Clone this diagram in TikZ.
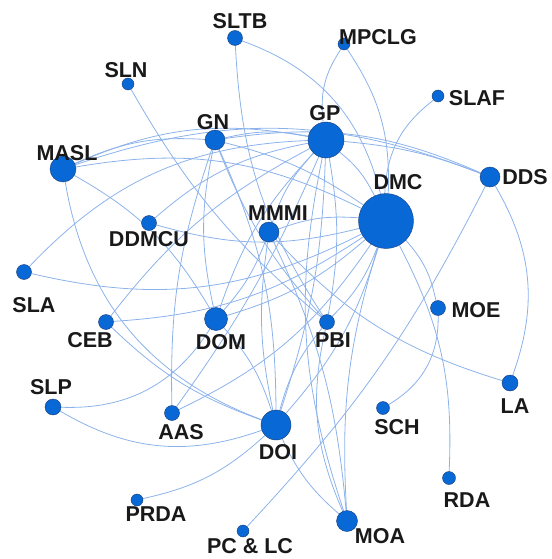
\documentclass[tikz,border=0pt]{standalone}
\usepackage{fontspec}
\setmainfont{Liberation Sans}
\definecolor{nodeblue}{RGB}{8,104,214}
\definecolor{nodeedge}{RGB}{25,60,120}
\definecolor{edgeblue}{RGB}{140,178,235}
\pgfdeclarelayer{bg}
\pgfsetlayers{bg,main}
\begin{document}
\begin{tikzpicture}[x=1pt,y=-1pt,
  v/.style={circle,fill=nodeblue,draw=nodeedge,line width=0.4pt,inner sep=0pt,minimum size=#1},
  lab/.style={font=\fontsize{21.5}{22}\selectfont\bfseries,text=black!90,inner sep=0pt},
  e/.style={draw=edgeblue,line width=0.8pt}]
\useasboundingbox (0,0) rectangle (551,559);
% vertices
\node[v=15] (SLTB) at (235,38) {};
\node[v=12] (MPCLG) at (344,44) {};
\node[v=12] (SLN) at (128,84) {};
\node[v=12] (SLAF) at (438,96) {};
\node[v=36] (GP) at (326,140) {};
\node[v=20] (GN) at (215,140) {};
\node[v=26] (MASL) at (63,169) {};
\node[v=20] (DDS) at (490,177) {};
\node[v=55] (DMC) at (386,221) {};
\node[v=15] (DDMCU) at (149,223) {};
\node[v=20] (MMMI) at (269,232) {};
\node[v=15] (SLA) at (24,272) {};
\node[v=15] (MOE) at (438,308) {};
\node[v=15] (CEB) at (106,322) {};
\node[v=23] (DOM) at (216,319) {};
\node[v=15] (PBI) at (327,322) {};
\node[v=16] (LA) at (510,383) {};
\node[v=16] (SLP) at (53,407) {};
\node[v=15] (AAS) at (172,413) {};
\node[v=13] (SCH) at (383,408) {};
\node[v=30] (DOI) at (276,425) {};
\node[v=13] (RDA) at (449,478) {};
\node[v=12] (PRDA) at (137,500) {};
\node[v=12] (PCLC) at (243,531) {};
\node[v=21] (MOA) at (347,521) {};
% labels
\node[lab] (lSLTB) at (240,21) {SLTB};
\node[lab] (lMPCLG) at (378,37) {MPCLG};
\node[lab] (lSLN) at (126,70) {SLN};
\node[lab] (lSLAF) at (477,98) {SLAF};
\node[lab] (lGP) at (325,113) {GP};
\node[lab] (lGN) at (213,122) {GN};
\node[lab] (lMASL) at (67,153) {MASL};
\node[lab] (lDDS) at (525,177) {DDS};
\node[lab] (lDMC) at (398,182) {DMC};
\node[lab] (lDDMCU) at (149,239) {DDMCU};
\node[lab] (lMMMI) at (278,213) {MMMI};
\node[lab] (lSLA) at (34,305) {SLA};
\node[lab] (lMOE) at (476,310) {MOE};
\node[lab] (lCEB) at (90,340) {CEB};
\node[lab] (lDOM) at (221,342) {DOM};
\node[lab] (lPBI) at (333,340) {PBI};
\node[lab] (lLA) at (515,406) {LA};
\node[lab] (lSLP) at (51,387) {SLP};
\node[lab] (lAAS) at (181,432) {AAS};
\node[lab] (lSCH) at (397,427) {SCH};
\node[lab] (lDOI) at (278,452) {DOI};
\node[lab] (lRDA) at (467,500) {RDA};
\node[lab] (lPRDA) at (156,514) {PRDA};
\node[lab] (lPCLC) at (250,546) {PC \& LC};
\node[lab] (lMOA) at (380,536) {MOA};
% edges
\begin{pgfonlayer}{bg}
\draw[e] (MASL) to[bend left=14] (GN);
\draw[e] (MASL) to[bend left=17] (GP);
\draw[e] (MASL) to[bend left=18] (DMC);
\draw[e] (MASL) to[bend left=20] (DDS);
\draw[e] (GN) to[bend left=12] (GP);
\draw[e] (GN) to[bend left=16] (DDS);
\draw[e] (GP) to[bend left=8] (DDS);
\draw[e] (SLTB) to[bend left=28] (DMC);
\draw[e] (SLTB) to[bend right=15] (PBI);
\draw[e] (MPCLG) to[bend right=20] (GP);
\draw[e] (MPCLG) to[bend left=18] (DMC);
\draw[e] (SLAF) to[bend right=25] (DMC);
\draw[e] (SLN) to[bend right=10] (PBI);
\draw[e] (MASL) to[bend right=30] (DOI);
\draw[e] (MASL) to[bend left=15] (DOM);
\draw[e] (SLA) to[bend left=22] (GP);
\draw[e] (SLA) to[bend right=20] (DMC);
\draw[e] (CEB) to[bend right=15] (DMC);
\draw[e] (CEB) to[bend right=12] (DOI);
\draw[e] (SLP) to[bend right=30] (DOM);
\draw[e] (SLP) to[bend right=25] (DOI);
\draw[e] (AAS) to[bend left=10] (GN);
\draw[e] (AAS) to[bend right=15] (DMC);
\draw[e] (PRDA) to[bend right=15] (DOI);
\draw[e] (PCLC) to[bend right=8] (DDS);
\draw[e] (DOI) to[bend right=12] (MOA);
\draw[e] (MOA) to[bend left=18] (PBI);
\draw[e] (MOA) to[bend left=10] (DMC);
\draw[e] (MOA) to[bend left=15] (GP);
\draw[e] (SCH) to[bend right=30] (MOE);
\draw[e] (RDA) to[bend right=15] (DMC);
\draw[e] (MOE) to[bend right=15] (DMC);
\draw[e] (LA) to[bend right=25] (DDS);
\draw[e] (MMMI) to[bend right=15] (LA);
\draw[e] (DDMCU) to[bend left=15] (GP);
\draw[e] (DDMCU) to[bend right=15] (DMC);
\draw[e] (GP) to[bend left=12] (DMC);
\draw[e] (GN) to[bend left=10] (DMC);
\draw[e] (GN) to[bend right=12] (DOM);
\draw[e] (GN) to[bend left=12] (DOI);
\draw[e] (GN) to[bend right=10] (PBI);
\draw[e] (GP) to[bend right=12] (DOM);
\draw[e] (GP) to[bend left=8] (DOI);
\draw[e] (GP) to[bend right=12] (MMMI);
\draw[e] (GP) to[bend left=10] (PBI);
\draw[e] (GP) to[bend left=6] (AAS);
\draw[e] (GP) to[bend right=12] (CEB);
\draw[e] (MMMI) to[bend left=12] (DMC);
\draw[e] (MMMI) to[bend right=10] (DOI);
\draw[e] (MMMI) to[bend left=10] (MOA);
\draw[e] (MMMI) to[bend left=10] (DOM);
\draw[e] (DOM) to[bend right=12] (DMC);
\draw[e] (DOM) to[bend left=12] (DOI);
\draw[e] (DOI) to[bend right=12] (DMC);
\draw[e] (DOI) to[bend left=12] (PBI);
\draw[e] (PBI) to[bend right=12] (DMC);
\end{pgfonlayer}
\end{tikzpicture}
\end{document}
